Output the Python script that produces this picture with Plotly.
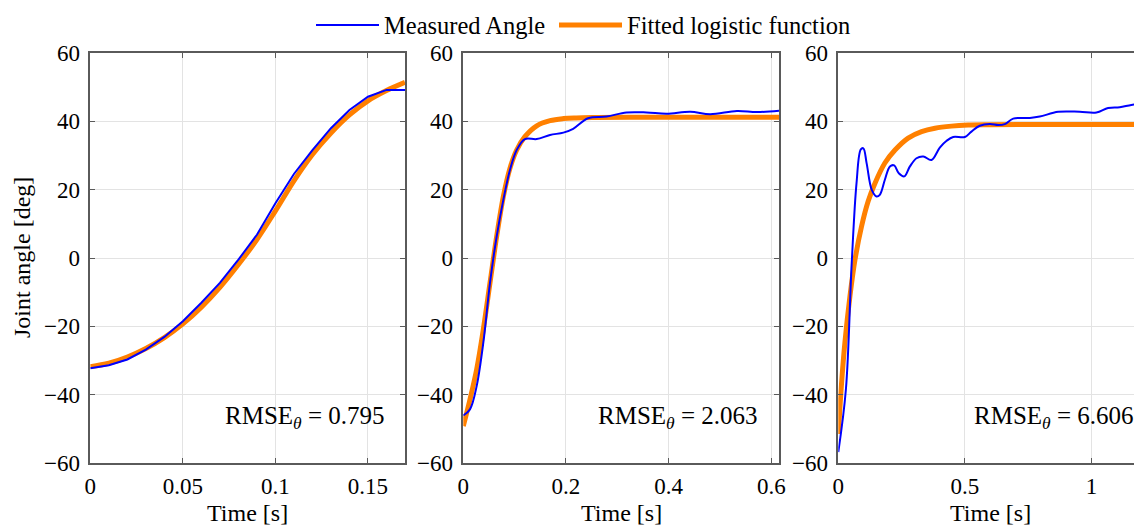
import plotly.graph_objects as go

# ---------------- data ----------------
# Panel 1
t1_meas = [0, 0.01, 0.02, 0.03, 0.04, 0.05, 0.06, 0.07, 0.08, 0.09, 0.10, 0.11, 0.12, 0.13, 0.14, 0.15, 0.16, 0.17]
a1_meas = [-32.3, -31.4, -29.7, -26.8, -23.1, -18.5, -13.1, -7.3, -0.5, 6.8, 16.0, 24.6, 31.6, 38.0, 43.3, 47.2, 49.2, 49.2]
t1_fit = [0, 0.01, 0.02, 0.03, 0.04, 0.05, 0.06, 0.07, 0.08, 0.09, 0.10, 0.11, 0.12, 0.13, 0.14, 0.15, 0.16, 0.17]
a1_fit = [-31.8, -30.8, -29.0, -26.5, -23.3, -19.3, -14.4, -8.6, -1.9, 5.4, 13.8, 22.6, 30.3, 36.6, 41.9, 46.0, 49.0, 51.4]

# Panel 2
t2_meas = [0, 0.013, 0.026, 0.039, 0.052, 0.065, 0.078, 0.091, 0.104, 0.12, 0.143, 0.169, 0.195, 0.214,
           0.243, 0.279, 0.318, 0.357, 0.396, 0.442, 0.481, 0.533, 0.572, 0.615]
a2_meas = [-46.1, -44.3, -37.5, -24.8, -7.3, 6.3, 17.0, 25.8, 31.6, 34.8, 34.8, 36.0, 36.7, 37.8,
           40.9, 41.4, 42.6, 42.6, 42.2, 42.8, 42.1, 43.0, 42.7, 43.1]
t2_fit = [0, 0.013, 0.026, 0.039, 0.052, 0.065, 0.078, 0.091, 0.104, 0.12, 0.143, 0.169, 0.195, 0.22, 0.26, 0.35, 0.45, 0.615]
a2_fit = [-49.2, -41.4, -32.6, -20.9, -7.3, 6.3, 18.0, 26.3, 31.6, 35.5, 38.7, 40.2, 40.8, 41.0, 41.1, 41.2, 41.2, 41.2]

# Panel 3
t3_meas = [0, 0.030, 0.053, 0.072, 0.089, 0.099, 0.112, 0.132, 0.151, 0.164, 0.184, 0.204, 0.221, 0.239,
           0.261, 0.283, 0.309, 0.336, 0.368, 0.401, 0.428, 0.454, 0.50, 0.526, 0.559, 0.599, 0.632, 0.658,
           0.691, 0.757, 0.796, 0.869, 0.954, 1.02, 1.066, 1.112, 1.158, 1.2]
a3_meas = [-56.8, -38.5, -1.5, 21.9, 31.8, 32.1, 27.7, 20.0, 18.0, 18.5, 22.9, 26.8, 27.1, 24.8,
           23.9, 26.8, 29.2, 29.7, 28.7, 32.3, 34.3, 35.4, 35.4, 37.0, 38.7, 39.2, 38.9, 39.2,
           40.8, 41.0, 41.4, 42.8, 42.8, 42.6, 43.9, 44.1, 44.8, 45.1]
t3_fit = [0, 0.013, 0.026, 0.046, 0.066, 0.092, 0.118, 0.145, 0.184, 0.224, 0.276, 0.329, 0.382, 0.447, 0.513, 0.6, 0.8, 1.0, 1.2]
a3_fit = [-51.5, -36.5, -24.8, -11.2, -0.5, 9.3, 16.6, 21.9, 27.8, 31.6, 35.1, 37.0, 38.0, 38.6, 38.9, 39.0, 39.1, 39.1, 39.1]

rmse_labels = ["0.795", "2.063", "6.606"]
x_ranges = [[0, 0.17], [0, 0.615], [0, 1.2]]
x_ticks = [[0, 0.05, 0.1, 0.15], [0, 0.2, 0.4, 0.6], [0, 0.5, 1]]
x_ticktext = [["0", "0.05", "0.1", "0.15"], ["0", "0.2", "0.4", "0.6"], ["0", "0.5", "1"]]
y_ticks = [-60, -40, -20, 0, 20, 40, 60]

# ---------------- figure ----------------
OFF = 8  # page body margin in the browser
W, H = 1142 - OFF, 525 - OFF
FONT = "Liberation Serif"
BLUE = "#0000FF"
ORANGE = "#FF8000"
AXC = "#5a5a5a"
GRID = "#e3e3e3"

# plot-area edges in screen pixels
domains_px = [(90.3, 405.0), (463.3, 779.0), (838.3, 1142.0)]
TOP, BOT = 53, 463
top_f, bot_f = TOP - OFF, BOT - OFF
ph = bot_f - top_f

meas = [(t1_meas, a1_meas), (t2_meas, a2_meas), (t3_meas, a3_meas)]
fits = [(t1_fit, a1_fit), (t2_fit, a2_fit), (t3_fit, a3_fit)]

fig = go.Figure()
for i in range(3):
    xa = "x" if i == 0 else f"x{i+1}"
    ya = "y" if i == 0 else f"y{i+1}"
    fig.add_trace(go.Scatter(x=fits[i][0], y=fits[i][1], mode="lines", name="Fitted logistic function",
                             line=dict(color=ORANGE, width=5, shape="spline"),
                             showlegend=(i == 0), legend="legend2", xaxis=xa, yaxis=ya))
    fig.add_trace(go.Scatter(x=meas[i][0], y=meas[i][1], mode="lines", name="Measured Angle",
                             line=dict(color=BLUE, width=2, shape="linear" if i == 0 else "spline"),
                             showlegend=(i == 0), legend="legend", xaxis=xa, yaxis=ya))

leg_y = 1 + (top_f - (25 - OFF)) / ph
leg_common = dict(orientation="h", xanchor="left", y=leg_y, yanchor="middle",
                  font=dict(size=24.5, family=FONT), bgcolor="rgba(0,0,0,0)", itemwidth=63)

layout = dict(
    width=W, height=H,
    margin=dict(l=0, r=0, t=top_f, b=H - bot_f, pad=0, autoexpand=False),
    paper_bgcolor="white", plot_bgcolor="white",
    font=dict(family=FONT, size=23, color="black"),
    legend=dict(x=(311 - OFF) / W, **leg_common),
    legend2=dict(x=(554 - OFF) / W, **leg_common),
    showlegend=True,
)
for i in range(3):
    sx = "xaxis" if i == 0 else f"xaxis{i+1}"
    sy = "yaxis" if i == 0 else f"yaxis{i+1}"
    d0, d1 = domains_px[i]
    layout[sx] = dict(domain=[(d0 - OFF) / W, min((d1 - OFF) / W, 1.0)], range=x_ranges[i],
                      anchor="y" if i == 0 else f"y{i+1}",
                      tickvals=x_ticks[i], ticktext=x_ticktext[i],
                      ticks="inside", ticklen=5, tickcolor=AXC, tickwidth=1,
                      showline=True, linecolor=AXC, linewidth=1.5, mirror="allticks",
                      showgrid=True, gridcolor=GRID, gridwidth=1, zeroline=False,
                      tickfont=dict(size=23, family=FONT, color="black"),
                      ticklabelstandoff=2, automargin=False)
    layout[sy] = dict(range=[-60, 60], anchor="x" if i == 0 else f"x{i+1}",
                      domain=[0, 1],
                      tickvals=y_ticks,
                      ticks="inside", ticklen=5, tickcolor=AXC, tickwidth=1,
                      showline=True, linecolor=AXC, linewidth=1.5, mirror="allticks",
                      showgrid=True, gridcolor=GRID, gridwidth=1, zeroline=False,
                      tickfont=dict(size=23, family=FONT, color="black"),
                      ticklabelstandoff=4, automargin=False)
fig.update_layout(**layout)

ann_right_px = [387, 760, 1136]
for i in range(3):
    yr = "y" if i == 0 else f"y{i+1}"
    fig.add_annotation(x=(ann_right_px[i] - OFF) / W, y=-46.7, xref="paper", yref=yr,
                       xanchor="right", yanchor="middle",
                       text=f"RMSE<sub><i>θ</i></sub> = {rmse_labels[i]}", showarrow=False,
                       font=dict(size=25, family=FONT, color="black"))
    fig.add_annotation(x=0.5, xref=("x domain" if i == 0 else f"x{i+1} domain"),
                       y=(bot_f - (513 - OFF)) / ph, yref="paper",
                       xanchor="center", yanchor="middle", text="Time [s]", showarrow=False,
                       font=dict(size=24, family=FONT, color="black"))

fig.add_annotation(x=(22 - OFF) / W, y=0.5, xref="paper", yref="paper", xanchor="center", yanchor="middle",
                   text="Joint angle [deg]", textangle=-90, showarrow=False,
                   font=dict(size=24, family=FONT, color="black"))

fig.write_html("out.html")
